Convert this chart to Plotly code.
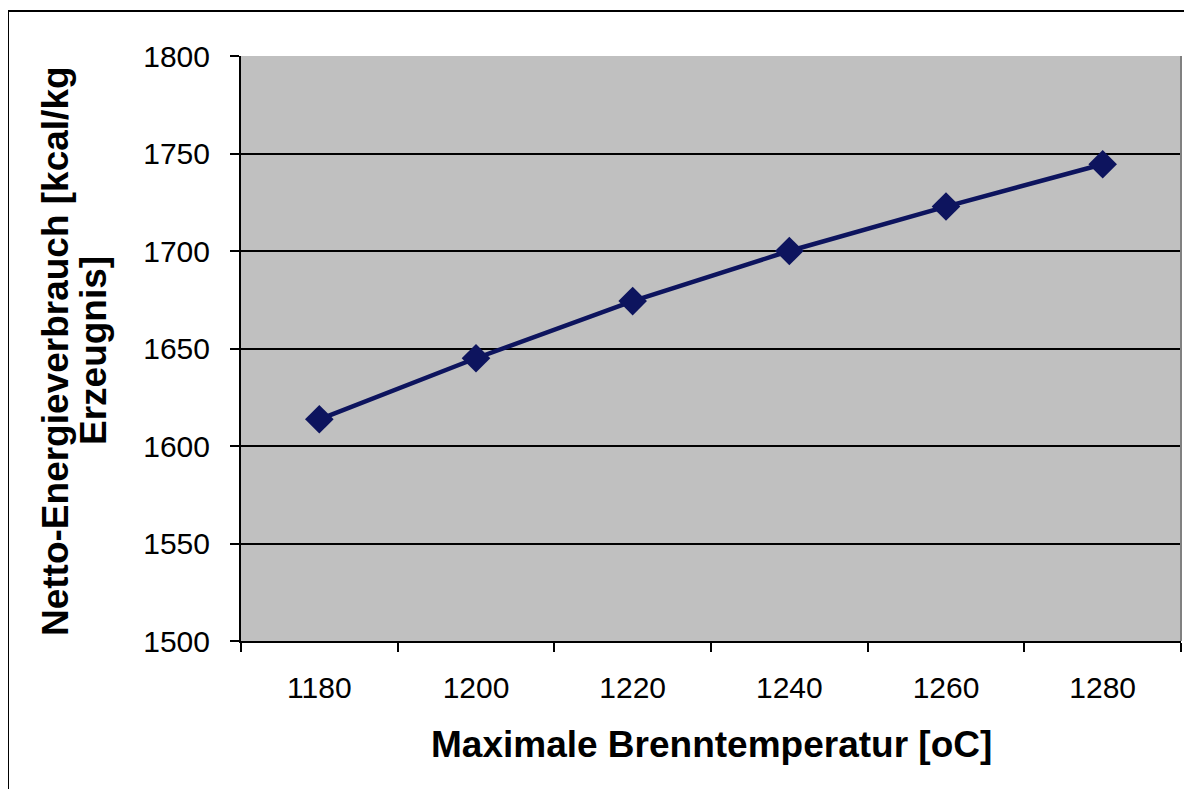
import plotly.graph_objects as go

temps = [1180, 1200, 1220, 1240, 1260, 1280]
energy = [1613.7, 1645.0, 1674.3, 1700.0, 1722.8, 1744.5]
y_ticks = [1500, 1550, 1600, 1650, 1700, 1750, 1800]
x_title = "Maximale Brenntemperatur [oC]"
y_title_1 = "Netto-Energieverbrauch [kcal/kg"
y_title_2 = "Erzeugnis]"

W, H = 1192, 789
OFF = 8  # page offset of the plot in the browser
L, T = 241 - OFF, 56 - OFF
R = W - (1181 - OFF)
B = H - (641 - OFF)
pw, ph = W - L - R, H - T - B

def px_x(p):  # reference pixel -> paper
    return (p - OFF - L) / pw

def px_y(p):
    return (H - B - (p - OFF)) / ph

fig = go.Figure()
fig.add_trace(go.Scatter(
    x=temps, y=energy, mode="lines+markers",
    line=dict(color="#0d145e", width=4.5),
    marker=dict(symbol="diamond", size=22, color="#0d145e"),
    showlegend=False, cliponaxis=False,
))

font = "Liberation Sans, Arial, sans-serif"
fig.update_layout(
    width=W, height=H,
    margin=dict(l=L, r=R, t=T, b=B),
    paper_bgcolor="white", plot_bgcolor="#c0c0c0",
    font=dict(family=font, color="black", size=30),
    xaxis=dict(
        range=[1170, 1290], tickvals=temps, ticktext=[str(t) for t in temps],
        ticks="", showgrid=False, zeroline=False,
        showline=True, linecolor="black", linewidth=2,
        tickfont=dict(size=30), ticklabelstandoff=19,
        minor=dict(tick0=1170, dtick=20, ticks="outside", ticklen=9,
                   tickwidth=2, tickcolor="black", showgrid=False),
    ),
    yaxis=dict(
        range=[1500, 1800], tickvals=y_ticks,
        ticks="outside", ticklen=9, tickwidth=2, tickcolor="black",
        showgrid=True, gridcolor="black", gridwidth=2,
        zeroline=False, showline=True, linecolor="black", linewidth=2,
        tickfont=dict(size=30), ticklabelstandoff=14,
    ),
    annotations=[
        dict(text=x_title, xref="paper", yref="paper", x=px_x(711), y=px_y(744),
             xanchor="center", yanchor="middle", showarrow=False,
             font=dict(size=37, family=font, weight="bold")),
        dict(text=y_title_1, xref="paper", yref="paper", x=px_x(55), y=px_y(351),
             xanchor="center", yanchor="middle", showarrow=False, textangle=-90,
             font=dict(size=37, family=font, weight="bold")),
        dict(text=y_title_2, xref="paper", yref="paper", x=px_x(93), y=px_y(351),
             xanchor="center", yanchor="middle", showarrow=False, textangle=-90,
             font=dict(size=37, family=font, weight="bold")),
    ],
    shapes=[
        dict(type="line", xref="paper", yref="paper", x0=1, x1=1, y0=0, y1=1,
             line=dict(color="#808080", width=2)),
        dict(type="rect", xref="paper", yref="paper",
             x0=px_x(8), x1=px_x(W + 40), y0=px_y(H + 40), y1=px_y(11),
             line=dict(color="black", width=2), layer="below"),
    ],
)

fig.write_html("out.html")
